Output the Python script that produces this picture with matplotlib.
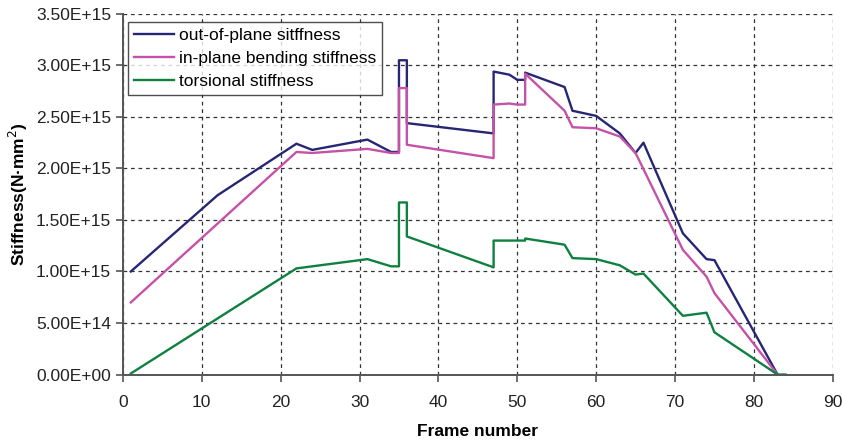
import matplotlib.pyplot as plt
from matplotlib.ticker import FuncFormatter

plt.rcParams['font.family'] = ['Liberation Sans', 'DejaVu Sans']

# frame numbers and stiffness values (N*mm^2)
frame_oop = [1, 12, 22, 24, 31, 34, 35, 35, 36, 36, 47, 47, 49, 50, 51, 51, 56, 57, 60, 63, 65, 66, 71, 74, 75, 83]
out_of_plane = [1.00e15, 1.74e15, 2.24e15, 2.18e15, 2.28e15, 2.16e15, 2.16e15, 3.05e15, 3.05e15, 2.44e15,
                2.34e15, 2.94e15, 2.91e15, 2.86e15, 2.86e15, 2.93e15, 2.79e15, 2.56e15, 2.51e15, 2.34e15,
                2.15e15, 2.25e15, 1.37e15, 1.12e15, 1.11e15, 0.0]

frame_ip = [1, 22, 24, 31, 34, 35, 35, 36, 36, 47, 47, 49, 50, 51, 51, 56, 57, 60, 63, 65, 71, 74, 75, 83]
in_plane = [0.70e15, 2.16e15, 2.15e15, 2.19e15, 2.15e15, 2.15e15, 2.78e15, 2.78e15, 2.23e15, 2.10e15,
            2.62e15, 2.63e15, 2.62e15, 2.62e15, 2.92e15, 2.56e15, 2.40e15, 2.39e15, 2.31e15, 2.15e15,
            1.21e15, 0.95e15, 0.79e15, 0.0]

frame_tor = [1, 22, 31, 34, 35, 35, 36, 36, 47, 47, 50, 51, 51, 56, 57, 60, 63, 65, 66, 71, 74, 75, 83, 84]
torsional = [0.01e15, 1.03e15, 1.12e15, 1.05e15, 1.05e15, 1.67e15, 1.67e15, 1.34e15, 1.04e15, 1.30e15,
             1.30e15, 1.30e15, 1.32e15, 1.26e15, 1.13e15, 1.12e15, 1.06e15, 0.97e15, 0.98e15, 0.57e15,
             0.60e15, 0.41e15, 0.0, 0.0]

fig = plt.figure(figsize=(8.42, 4.48), dpi=100)
ax = fig.add_axes([0.146, 0.164, 0.843, 0.805])

ax.plot(frame_oop, out_of_plane, color='#262674', lw=1.7, label='out-of-plane sitffness')
ax.plot(frame_ip, in_plane, color='#C452A8', lw=1.7, label='in-plane bending stiffness')
ax.plot(frame_tor, torsional, color='#0E8040', lw=1.7, label='torsional stiffness')

ax.set_xlim(0, 90)
ax.set_ylim(0, 3.5e15)
ax.set_xticks(range(0, 91, 10))
ax.set_yticks([i * 0.5e15 for i in range(8)])
ax.yaxis.set_major_formatter(FuncFormatter(lambda v, p: '{:.2E}'.format(v)))

ax.grid(True, color='#333333', linestyle=(0, (3, 3)), linewidth=0.9)
ax.set_axisbelow(True)
for s in ['top', 'right']:
    ax.spines[s].set_visible(False)
for s in ['left', 'bottom']:
    ax.spines[s].set_color('#555555')
    ax.spines[s].set_linewidth(1.4)
ax.tick_params(axis='both', labelsize=12.5, color='#555555', labelcolor='#222222', width=1.2, length=5)
ax.tick_params(axis='x', pad=10)

ax.set_xlabel('Frame number', fontsize=12.5, fontweight='bold', labelpad=10)
ax.set_ylabel('Stiffness(N·mm$^2$)', fontsize=12.5, fontweight='bold', labelpad=4)

leg = ax.legend(loc='upper left', bbox_to_anchor=(0.007, 0.978), borderaxespad=0, fontsize=12.5,
                frameon=True, fancybox=False, edgecolor='#222222', handlelength=2.3, borderpad=0.35,
                labelspacing=0.45, handletextpad=0.3)
leg.get_frame().set_linewidth(1.0)

fig.savefig('out.png', dpi=100)
